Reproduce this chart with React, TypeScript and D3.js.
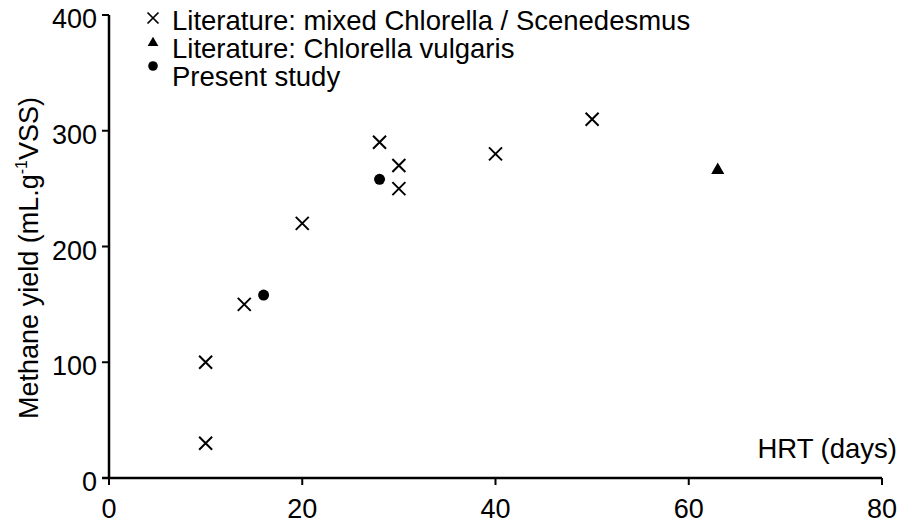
import React from 'react';
import * as d3 from 'd3';

// HRT (days) vs methane yield
const mixedHrt = [10, 10, 14, 20, 28, 30, 30, 40, 50];
const mixedYield = [30, 100, 150, 220, 290, 270, 250, 280, 310];
const vulgarisHrt = [63];
const vulgarisYield = [266];
const presentHrt = [16, 28];
const presentYield = [158, 258];

const xTicks = [0, 20, 40, 60, 80];
const yTicks = [0, 100, 200, 300, 400];
const legendLabels = [
  'Literature: mixed Chlorella / Scenedesmus',
  'Literature: Chlorella vulgaris',
  'Present study',
];

const width = 916;
const height = 524;
const font = 'Liberation Sans, Arial, sans-serif';

export default function App() {
  const x = d3.scaleLinear().domain([0, 80]).range([109, 882]);
  const y = d3.scaleLinear().domain([0, 400]).range([478, 15]);

  const cross = (cx: number, cy: number, s: number, key: string, sw = 2) => (
    <path
      key={key}
      d={`M${cx - s},${cy - s}L${cx + s},${cy + s}M${cx - s},${cy + s}L${cx + s},${cy - s}`}
      stroke="#000"
      strokeWidth={sw}
      fill="none"
    />
  );
  const tri = d3.symbol().type(d3.symbolTriangle);

  const legendY = [30, 58, 86];
  const markerY = [18, 43, 66];

  return (
    <svg width={width} height={height} style={{ position: 'absolute', left: 0, top: 0 }} fontFamily={font}>
      <rect width={width} height={height} fill="#fff" />
      {/* axes */}
      <line x1={x(0)} x2={x(0)} y1={y(400)} y2={y(0)} stroke="#000" strokeWidth={2.5} />
      <line x1={x(0) - 7} x2={x(80)} y1={y(0)} y2={y(0)} stroke="#000" strokeWidth={2.5} />
      {yTicks.map((t) => (
        <g key={'yt' + t}>
          <line x1={x(0) - 7} x2={x(0)} y1={y(t)} y2={y(t)} stroke="#000" strokeWidth={2} />
          <text x={97} y={y(t) + 4} textAnchor="end" dominantBaseline="central" fontSize={27}>
            {t}
          </text>
        </g>
      ))}
      {xTicks.map((t) => (
        <g key={'xt' + t}>
          <line x1={x(t)} x2={x(t)} y1={y(0)} y2={y(0) + 7} stroke="#000" strokeWidth={2} />
          <text x={x(t)} y={518} textAnchor="middle" fontSize={27}>
            {t}
          </text>
        </g>
      ))}
      <text x={897} y={458} textAnchor="end" fontSize={27.5}>
        HRT (days)
      </text>
      <text transform="translate(38,258) rotate(-90)" textAnchor="middle" fontSize={27}>
        Methane yield (mL.g
        <tspan fontSize={16} dy={-11}>-1</tspan>
        <tspan dy={11}>VSS)</tspan>
      </text>

      {/* data */}
      {mixedHrt.map((h, i) => cross(x(h), y(mixedYield[i]), 6.5, 'm' + i))}
      {vulgarisHrt.map((h, i) => (
        <path key={'v' + i} d={tri.size(75)() as string} transform={`translate(${x(h)},${y(vulgarisYield[i])})`} fill="#000" />
      ))}
      {presentHrt.map((h, i) => (
        <circle key={'p' + i} cx={x(h)} cy={y(presentYield[i])} r={5.5} fill="#000" />
      ))}

      {/* legend */}
      {cross(153, markerY[0], 5.5, 'lg0', 1.7)}
      <path d={tri.size(50)() as string} transform={`translate(153,${markerY[1]})`} fill="#000" />
      <circle cx={153} cy={markerY[2]} r={4.8} fill="#000" />
      {legendLabels.map((l, i) => (
        <text key={l} x={172} y={legendY[i]} fontSize={27.5}>
          {l}
        </text>
      ))}
    </svg>
  );
}
